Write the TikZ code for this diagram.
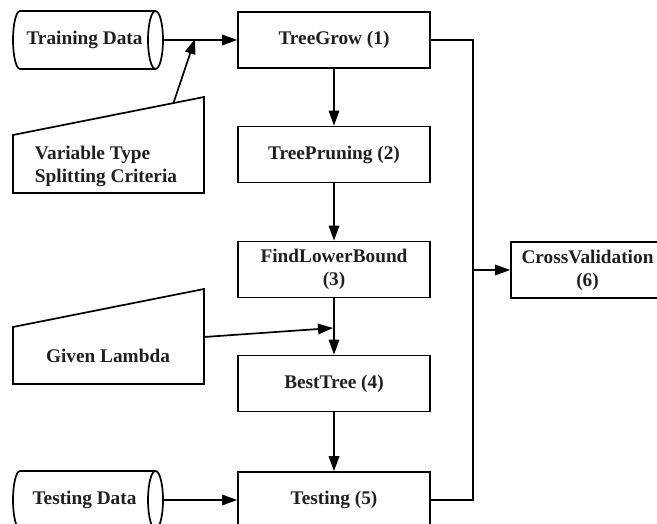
\documentclass[tikz,border=0pt]{standalone}
\usepackage{fontspec}
\setmainfont{Liberation Serif}
\usetikzlibrary{arrows.meta,calc}
\begin{document}
\begin{tikzpicture}[x=1bp,y=-1bp,
  line width=1.7bp,
  every node/.style={font=\fontsize{19.3bp}{23bp}\selectfont\bfseries, text=black!88, inner sep=0pt},
  proc/.style={draw, minimum width=192bp, minimum height=56bp, align=center},
  label/.style={align=center},
  flow/.style={-{Triangle[length=15bp,width=10.5bp]}},
  wire/.style={line join=miter}
]
\useasboundingbox (0,0) rectangle (657,524);

% processing steps
\node[proc] (grow)  at (334,40)    {TreeGrow (1)};
\node[proc] (prune) at (334,154.5) {TreePruning (2)};
\node[proc] (lower) at (334,269.5) {FindLowerBound\\(3)};
\node[proc] (best)  at (334,383.5) {BestTree (4)};
\node[proc] (test)  at (334,500)   {Testing (5)};
\node[proc, minimum width=153bp, minimum height=56bp] (cross) at (587.5,270) {CrossValidation\\(6)};

% data stores (horizontal cylinders)
\node[label, minimum width=157bp, minimum height=58bp] (train) at (84.5,40) {Training Data};
\draw (20,11) -- (155.5,11) (20,69) -- (155.5,69)
      (20,11) arc[start angle=-90,end angle=-270,x radius=7,y radius=29]
      (155.5,40) ellipse[x radius=7.5,y radius=29];

\node[label, minimum width=157bp, minimum height=58bp] (tdata) at (84.5,500) {Testing Data};
\draw (20,471) -- (155.5,471) (20,529) -- (155.5,529)
      (20,471) arc[start angle=-90,end angle=-270,x radius=7,y radius=29]
      (155.5,500) ellipse[x radius=7.5,y radius=29];

% manual inputs
\coordinate (vt-tl) at (13,135);
\coordinate (vt-tr) at (204,97);
\draw[wire] (vt-tl) -- (vt-tr) -- (204,193) -- (13,193) -- cycle;
\node[align=left] (vtype) at (106,166) {Variable Type\\Splitting Criteria};

\coordinate (gl-tl) at (13,327);
\coordinate (gl-tr) at (204,289);
\coordinate (gl-out) at (204,337);
\draw[wire] (gl-tl) -- (gl-tr) -- (204,384) -- (13,384) -- cycle;
\node[label] (lambda) at (108,356) {Given Lambda};

% junction points
\coordinate (j1) at (195,40);
\coordinate (j2) at (334,328);
\coordinate (cv) at (473,270);

% connectors
\draw[flow] (train.east) -- (grow.west);
\draw[flow] ($(vt-tl)!0.84!(vt-tr)$) -- ([yshift=1bp]j1);
\draw[flow] (grow) -- (prune);
\draw[flow] (prune) -- (lower);
\draw[flow] (lower) -- (best);
\draw[flow] (best) -- (test);
\draw[flow] (gl-out) -- ([xshift=-1bp]j2);
\draw[flow] (tdata.east) -- (test.west);
\draw[wire] (grow.east) -| (cv) |- (test.east);
\draw[flow] (cv) -- (cross.west);
\end{tikzpicture}
\end{document}
